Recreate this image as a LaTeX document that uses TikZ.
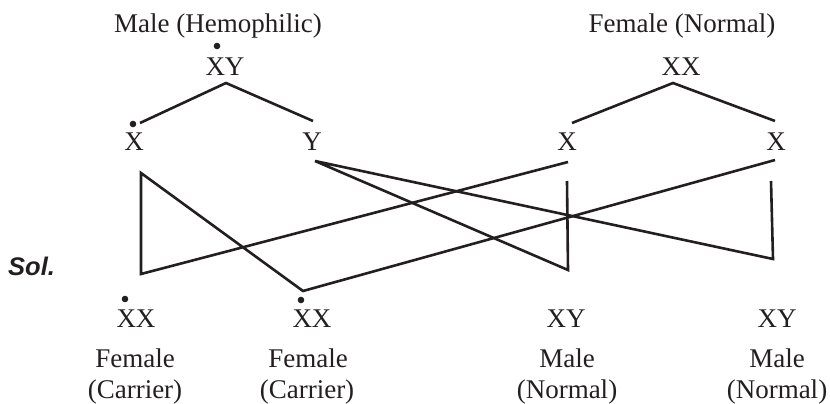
\documentclass[tikz,border=0pt]{standalone}
\usepackage{fontspec}
\setmainfont{Liberation Serif}
\newfontfamily\solfont{Liberation Sans}
\usetikzlibrary{positioning}
\definecolor{inkblack}{RGB}{35,31,32}

\begin{document}
\begin{tikzpicture}[x=1pt, y=-1pt,
  lbl/.style={inner sep=0pt, anchor=base, text=inkblack, font=\fontsize{27}{31}\selectfont},
  cross/.style={draw=inkblack, line width=2.6pt, line join=miter},
  allele/.style={fill=inkblack}
]
\useasboundingbox (0,0) rectangle (830,404);
% parents
\node[lbl] (ptitle) at (218,33) {Male (Hemophilic)};
\node[lbl] (pXY) at (225,75) {XY};
\node[lbl] (pX) at (134,150) {X};
\node[lbl] (pY) at (312,150) {Y};
\node[lbl] (mtitle) at (682,33) {Female (Normal)};
\node[lbl] (mXX) at (681,75) {XX};
\node[lbl] (mX1) at (567,150) {X};
\node[lbl] (mX2) at (776,150) {X};
\fill[allele] (217,46) circle (3.3pt);
\fill[allele] (133,124) circle (3.3pt);
% offspring
\node[lbl] (o1) at (136,327) {XX};
\node[lbl] (o2) at (312,327) {XX};
\node[lbl] (o3) at (566,327) {XY};
\node[lbl] (o4) at (777,327) {XY};
\fill[allele] (125,299) circle (3.3pt);
\fill[allele] (301,300) circle (3.3pt);
\node[lbl] (o1sex) at (135,367) {Female};
\node[lbl] (o1kind) at (135,398) {(Carrier)};
\node[lbl] (o2sex) at (308,367) {Female};
\node[lbl] (o2kind) at (307,398) {(Carrier)};
\node[lbl] (o3sex) at (567,367) {Male};
\node[lbl] (o3kind) at (567,398) {(Normal)};
\node[lbl] (o4sex) at (777,367) {Male};
\node[lbl] (o4kind) at (777,398) {(Normal)};
\node[inner sep=0pt, anchor=base west, text=inkblack,
  font=\solfont\bfseries\itshape\fontsize{25.5}{29}\selectfont] (sol) at (8,275) {Sol.};
% gametes
\coordinate (pXY-apex) at (226,83);
\coordinate (pX-top) at (140,123);
\coordinate (pY-top) at (313,121);
\coordinate (mXX-apex) at (673,83);
\coordinate (mX1-top) at (572,123);
\coordinate (mX2-top) at (775,121);
\draw[cross] (pX-top) -- (pXY-apex) -- (pY-top);
\draw[cross] (mX1-top) -- (mXX-apex) -- (mX2-top);
% crosses
\coordinate (pX-foot) at (141,173);
\coordinate (pY-foot) at (315,161);
\coordinate (mX1-foot) at (568,162);
\coordinate (mX1-stem) at (567,181);
\coordinate (mX2-foot) at (775,160);
\coordinate (mX2-stem) at (771,181);
\coordinate (o1-top) at (141,274);
\coordinate (o2-top) at (303,291);
\coordinate (o3-top) at (568,270);
\coordinate (o4-top) at (773,259);
\draw[cross] (mX1-foot) -- (o1-top) -- (pX-foot) -- (o2-top) -- (mX2-foot);
\draw[cross] (mX1-stem) -- (o3-top) -- (pY-foot) -- (o4-top) -- (mX2-stem);
\end{tikzpicture}
\end{document}
